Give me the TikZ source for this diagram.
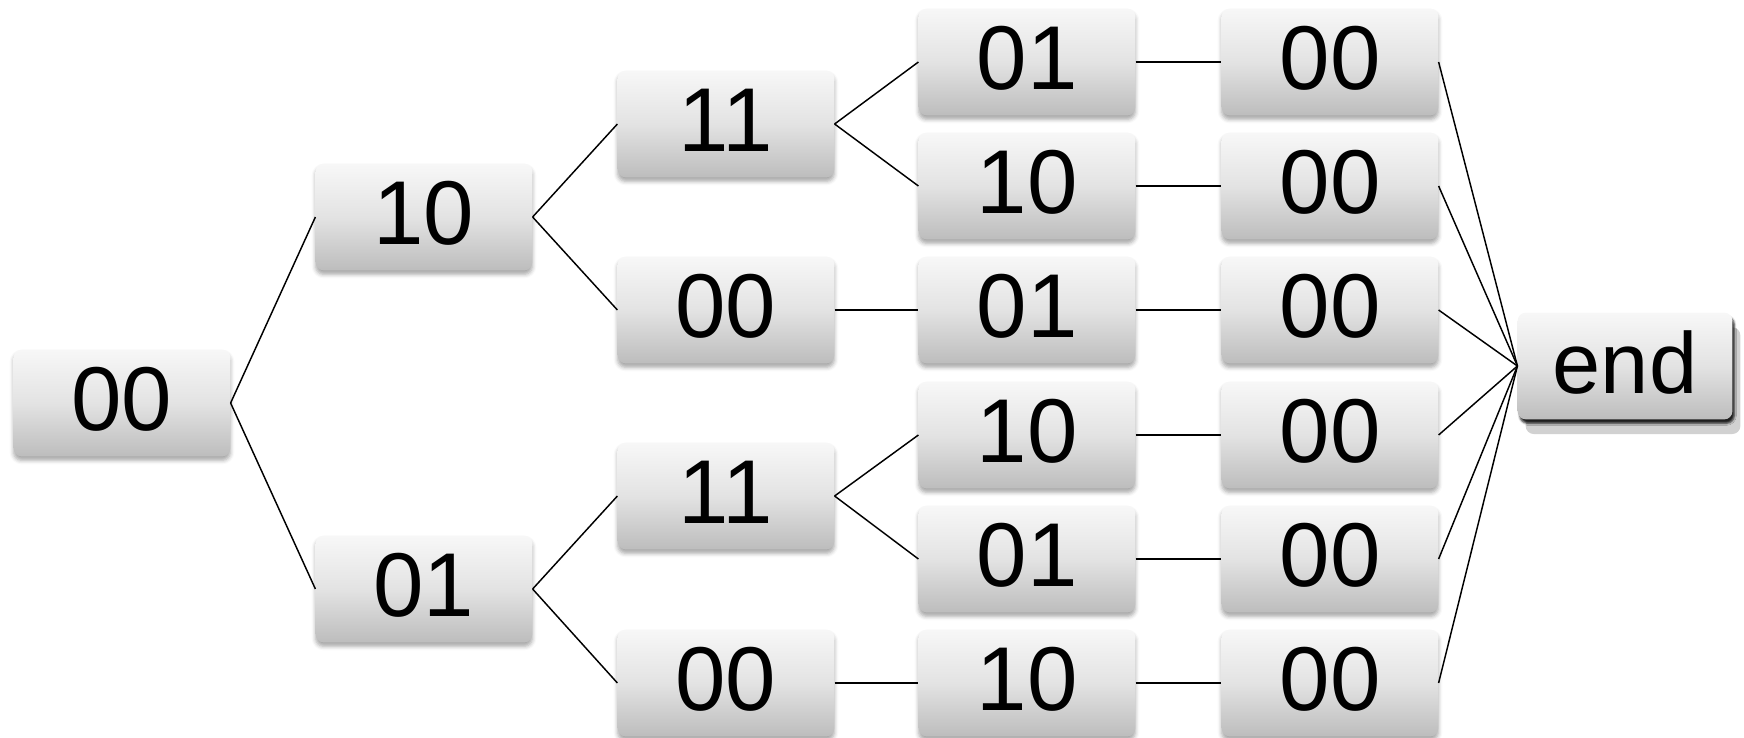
\documentclass[tikz,border=0pt]{standalone}
\usepackage{fontspec}
\setmainfont{Liberation Sans}
\usetikzlibrary{shadows.blur}
\begin{document}
\begin{tikzpicture}[x=0.75pt,y=-0.75pt,
  box/.style={rectangle, rounded corners=6pt, inner sep=0pt,
    minimum width=162.5pt, minimum height=80pt,
    text height=50pt, text depth=9pt,
    top color=black!3, bottom color=black!26, middle color=black!11,
    font=\fontsize{68}{82}\selectfont,
    blur shadow={shadow xshift=0pt, shadow yshift=-3pt, shadow blur radius=3pt, shadow opacity=35}},
  endbox/.style={rectangle, rounded corners=6pt, inner sep=0pt,
    minimum width=161pt, minimum height=80pt,
    text height=50pt, text depth=9pt,
    top color=black!3, bottom color=black!26, middle color=black!11,
    font=\fontsize{65}{78}\selectfont,
    preaction={fill=black!18, transform canvas={xshift=6pt, yshift=-11pt}},
    blur shadow={shadow xshift=1.5pt, shadow yshift=-3pt, shadow blur radius=1.5pt, shadow opacity=85}},
  link/.style={draw=black, line width=1.1pt}]
\useasboundingbox (0,0) rectangle (1744,738);
% root
\node[box] (r)   at (122,403) {00};
% first level
\node[box] (a)   at (424,217) {10};
\node[box] (b)   at (424,589) {01};
% second level
\node[box] (a1)  at (726,124) {11};
\node[box] (a2)  at (726,310) {00};
\node[box] (b1)  at (726,496) {11};
\node[box] (b2)  at (726,683) {00};
% third level
\node[box] (c1)  at (1027,62)  {01};
\node[box] (c2)  at (1027,186) {10};
\node[box] (c3)  at (1027,310) {01};
\node[box] (c4)  at (1027,435) {10};
\node[box] (c5)  at (1027,559) {01};
\node[box] (c6)  at (1027,683) {10};
% fourth level
\node[box] (d1)  at (1330,62)  {00};
\node[box] (d2)  at (1330,186) {00};
\node[box] (d3)  at (1330,310) {00};
\node[box] (d4)  at (1330,435) {00};
\node[box] (d5)  at (1330,559) {00};
\node[box] (d6)  at (1330,683) {00};
% sink
\node[endbox] (e) at (1625,366) {end};
% connectors
\draw[link] (r.east) -- (a.west);
\draw[link] (r.east) -- (b.west);
\draw[link] (a.east) -- (a1.west);
\draw[link] (a.east) -- (a2.west);
\draw[link] (b.east) -- (b1.west);
\draw[link] (b.east) -- (b2.west);
\draw[link] (a1.east) -- (c1.west);
\draw[link] (a1.east) -- (c2.west);
\draw[link] (a2.east) -- (c3.west);
\draw[link] (b1.east) -- (c4.west);
\draw[link] (b1.east) -- (c5.west);
\draw[link] (b2.east) -- (c6.west);
\foreach \i in {1,...,6} {
  \draw[link] (c\i.east) -- (d\i.west);
  \draw[link] (d\i.east) -- (e.west);
}
\end{tikzpicture}
\end{document}
